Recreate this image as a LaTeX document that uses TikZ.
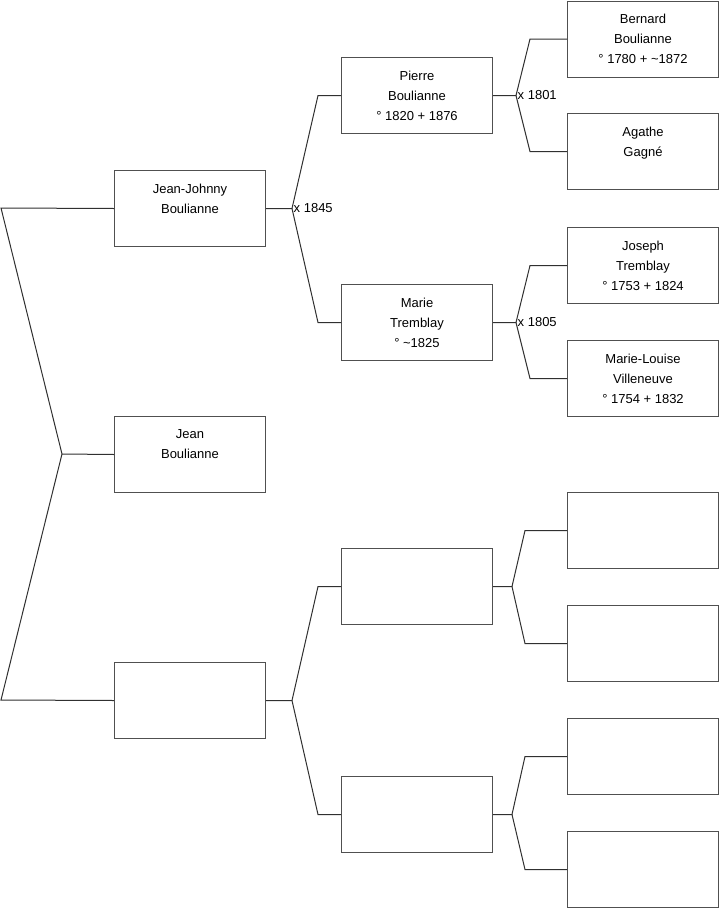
\documentclass[tikz,border=0pt]{standalone}
\usepackage{fontspec}
\setmainfont{Liberation Sans}
\usepackage{tikz}
\usetikzlibrary{positioning,calc}
\definecolor{boxline}{HTML}{505050}
\definecolor{linkline}{HTML}{303030}

\begin{document}
\begin{tikzpicture}[x=1pt, y=-1pt,
  box/.style={draw=boxline, line width=1pt, minimum width=151pt, minimum height=76pt, anchor=north west, align=center, inner sep=0pt, font=\fontsize{13}{20}\selectfont},
  link/.style={draw=linkline, line width=1pt},
  wed/.style={anchor=west, inner sep=1.5pt, font=\fontsize{13}{16}\selectfont}]
  \useasboundingbox (0,0) rectangle (719,908);
  % generation 1
  \node[box] (jj) at (114,170) {Jean-Johnny\\Boulianne\\\mbox{}};
  \node[box] (jean) at (114,416) {Jean\\Boulianne\\\mbox{}};
  \node[box] (mo) at (114,662) {};
  % generation 2
  \foreach \nm/\y/\txt in {pb/57/{Pierre\\Boulianne\\° 1820 + 1876}, mt/284/{Marie\\Tremblay\\° \textasciitilde1825}, gfm/548/{}, gmm/776/{}} {
    \node[box] (\nm) at (341,\y) {\txt};
  }
  % generation 3
  \foreach \nm/\y/\txt in {bb/0.5/{Bernard\\Boulianne\\° 1780 + \textasciitilde1872}, ag/113/{Agathe\\Gagné\\\mbox{}}, jt/227/{Joseph\\Tremblay\\° 1753 + 1824}, mlv/340/{Marie-Louise\\Villeneuve\\° 1754 + 1832}, g3e/492/{}, g3f/605/{}, g3g/718/{}, g3h/831/{}} {
    \node[box] (\nm) at (567,\y) {\txt};
  }
  % left fork
  \coordinate (l1) at (1,208);
  \coordinate (l0) at (62,454);
  \coordinate (l2) at (1,700);
  \draw[link] (jj.west) -- (l1) -- (l0) -- (l2) -- (mo.west);
  \draw[link] (l0) -- (jean.west);
  % forks to the parents
  \foreach \p/\up/\dn/\a/\b in {jj/pb/mt/26/23, mo/gfm/gmm/26/23, pb/bb/ag/23/37, mt/jt/mlv/23/37, gfm/g3e/g3f/19/42, gmm/g3g/g3h/19/42} {
    \draw[link] (\p.east) -- ++(\a,0) coordinate (v\p) -- ([xshift=-\b pt]\up.west) -- (\up.west);
    \draw[link] (v\p) -- ([xshift=-\b pt]\dn.west) -- (\dn.west);
  }
  \node[wed] (wjj) at (vjj) {x 1845};
  \node[wed] (wpb) at (vpb) {x 1801};
  \node[wed] (wmt) at (vmt) {x 1805};
\end{tikzpicture}
\end{document}
